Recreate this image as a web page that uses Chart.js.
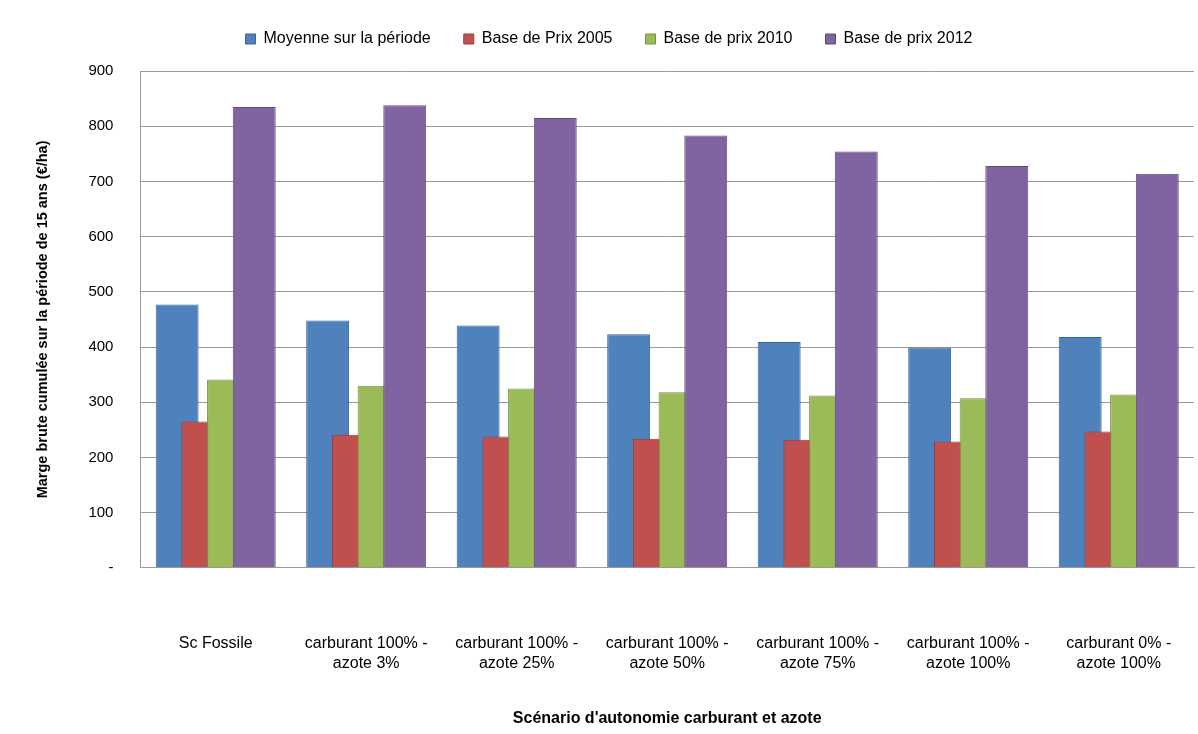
<!DOCTYPE html>
<html>
<head>
<meta charset="utf-8">
<script src="https://cdn.jsdelivr.net/npm/chart.js@4"></script>
<style>
  body { margin: 0; background: #fff; }
  canvas { display: block; }
</style>
</head>
<body>
<canvas id="myChart" width="1198" height="734"></canvas>
<script>
const categories = [
  "Sc Fossile",
  ["carburant 100% -", "azote 3%"],
  ["carburant 100% -", "azote 25%"],
  ["carburant 100% -", "azote 50%"],
  ["carburant 100% -", "azote 75%"],
  ["carburant 100% -", "azote 100%"],
  ["carburant 0% -", "azote 100%"]
];
const seriesNames = ["Moyenne sur la période", "Base de Prix 2005", "Base de prix 2010", "Base de prix 2012"];
const moyenne = [477, 448, 439, 423, 409, 399, 418];
const prix2005 = [265, 241, 238, 234, 232, 229, 247];
const prix2010 = [341, 330, 325, 318, 312, 307, 314];
const prix2012 = [835, 838, 815, 783, 754, 728, 714];

const fills = ["#4F81BD", "#C0504D", "#9BBB59", "#8064A2"];
const borders = ["#3A6394", "#943C3A", "#768F44", "#5F4A7A"];
const FONT = "'Liberation Sans', Arial, sans-serif";
const GRID = "#9A9A9A";

const ctx = document.getElementById("myChart").getContext("2d");

// excel draws the later series on top of the earlier ones
const drawOrder = {
  id: "drawOrder",
  beforeDatasetsDraw: chart => {
    const area = chart.chartArea;
    chart.ctx.save();
    chart.ctx.beginPath();
    chart.ctx.rect(area.left, area.top - 2, area.right - area.left, area.bottom - area.top + 2);
    chart.ctx.clip();
    for (let i = 0; i < chart.data.datasets.length; i++) {
      chart.getDatasetMeta(i).controller.draw();
    }
    chart.ctx.restore();
    return false;
  }
};

// extra room under the legend
const legendMargin = {
  id: "legendMargin",
  beforeInit: chart => {
    const fit = chart.legend.fit;
    chart.legend.fit = function () {
      fit.bind(chart.legend)();
      this.height += 14;
    };
  }
};

const myChart = new Chart(ctx, {
  type: "bar",
  plugins: [drawOrder, legendMargin],
  data: {
    labels: categories,
    datasets: [moyenne, prix2005, prix2010, prix2012].map((d, i) => ({
      label: seriesNames[i],
      data: d,
      backgroundColor: fills[i],
      borderColor: borders[i],
      borderWidth: 1,
      categoryPercentage: 0.683,
      barPercentage: 1.67
    }))
  },
  options: {
    responsive: false,
    animation: false,
    layout: {
      padding: { top: -2, left: 24, right: 4, bottom: 5 }
    },
    plugins: {
      legend: {
        position: "top",
        labels: {
          boxWidth: 10,
          boxHeight: 10,
          padding: 33,
          color: "#000",
          font: { family: FONT, size: 16 }
        }
      },
      tooltip: { enabled: false }
    },
    scales: {
      x: {
        grid: { display: false, drawTicks: false },
        border: { color: GRID },
        // the big tick padding should not eat the right side
        afterFit: scale => {
          scale.paddingLeft = 0;
          scale.paddingRight = 0;
        },
        ticks: {
          color: "#000",
          padding: 66,
          maxRotation: 0,
          font: { family: FONT, size: 16, lineHeight: 1.25 }
        },
        title: {
          display: true,
          text: "Scénario d'autonomie carburant et azote",
          color: "#000",
          font: { family: FONT, size: 16, weight: "bold" },
          padding: { top: -31, bottom: 1 }
        }
      },
      y: {
        min: 0,
        max: 900,
        grid: { color: GRID, drawTicks: false },
        border: { color: GRID },
        ticks: {
          stepSize: 100,
          padding: 27,
          color: "#000",
          font: { family: FONT, size: 15 },
          callback: v => (v === 0 ? "-" : v)
        },
        title: {
          display: true,
          text: "Marge brute cumulée sur la période de 15 ans (€/ha)",
          color: "#000",
          font: { family: FONT, size: 14.5, weight: "bold" },
          padding: { top: 10, bottom: 10 }
        }
      }
    }
  }
});
</script>
</body>
</html>
